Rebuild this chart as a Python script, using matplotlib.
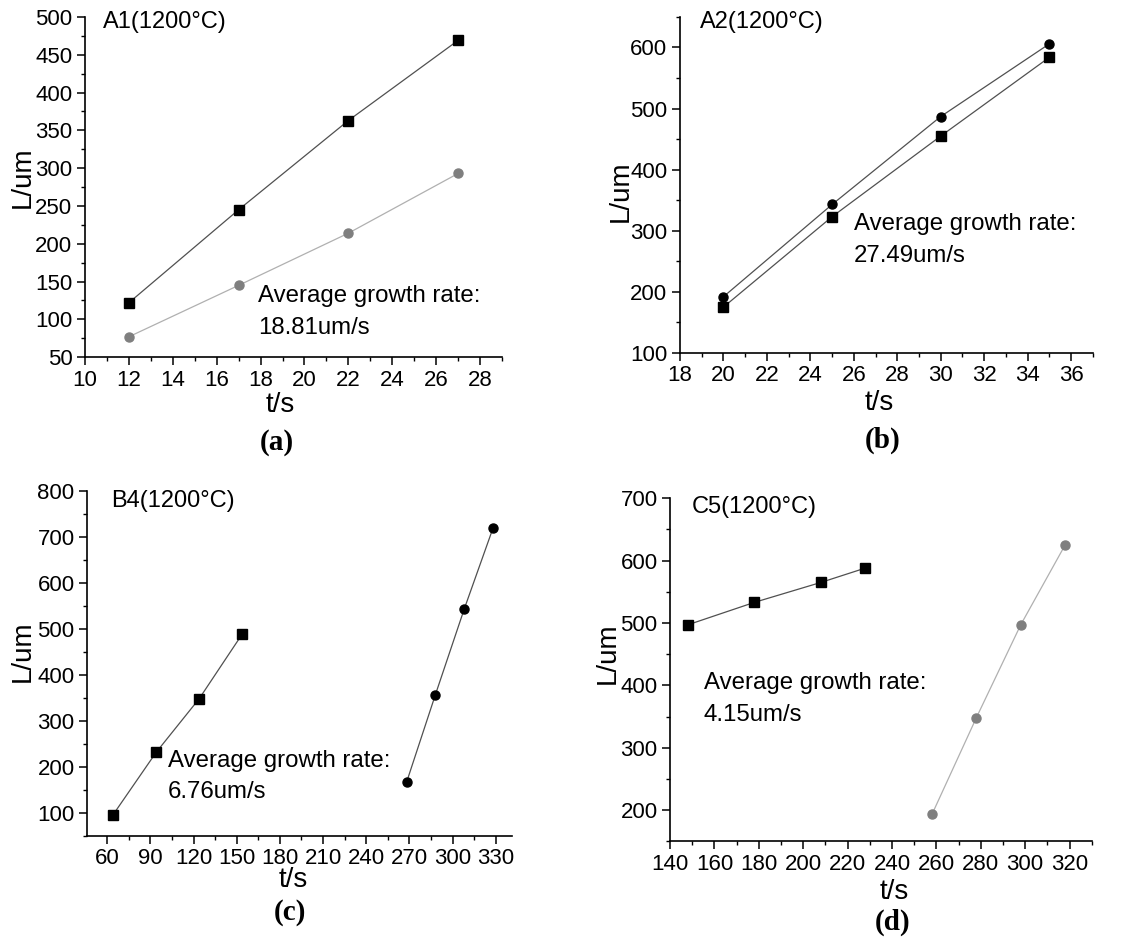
import numpy as np
import matplotlib
matplotlib.use('Agg')
import matplotlib.pyplot as plt
from matplotlib.ticker import MultipleLocator

plt.rcParams['font.family'] = ['Liberation Sans', 'DejaVu Sans']

# (a) A1
a_t = [12, 17, 22, 27]
a_sq = [122, 245, 363, 469]
a_ci = [77, 145, 214, 293]
# (b) A2
b_t = [20, 25, 30, 35]
b_ci = [192, 343, 487, 606]
b_sq = [175, 323, 455, 584]
# (c) B4
c_t_sq = [64, 94, 124, 154]
c_sq = [95, 231, 348, 489]
c_t_ci = [268, 288, 308, 328]
c_ci = [166, 356, 542, 718]
# (d) C5
d_t_sq = [148, 178, 208, 228]
d_sq = [497, 533, 565, 588]
d_t_ci = [258, 278, 298, 318]
d_ci = [193, 348, 497, 625]

titles = ['A1(1200\u00b0C)', 'A2(1200\u00b0C)', 'B4(1200\u00b0C)', 'C5(1200\u00b0C)']
rates = ['18.81um/s', '27.49um/s', '6.76um/s', '4.15um/s']
panel = ['(a)', '(b)', '(c)', '(d)']

fig = plt.figure(figsize=(11.42, 9.40), dpi=100)

# axes rectangles [left, bottom, width, height] in figure fraction
rects = [[0.0744, 0.620, 0.3652, 0.362],
         [0.5954, 0.6245, 0.3616, 0.3575],
         [0.0762, 0.111, 0.3718, 0.367],
         [0.5867, 0.105, 0.3693, 0.365]]
axs = [fig.add_axes(r) for r in rects]

# label positions (axes fraction) for x and y labels
xlab_pos = [(0.468, -0.141), (0.482, -0.149), (0.485, -0.128), (0.531, -0.149)]
ylab_pos = [(-0.15, 0.53), (-0.143, 0.48), (-0.152, 0.535), (-0.147, 0.548)]

blk = dict(color='#505050', lw=0.9, marker='s', ms=6.5, mfc='black', mec='black')
blkc = dict(color='#505050', lw=0.9, marker='o', ms=6.5, mfc='black', mec='black')
gry = dict(color='#b0b0b0', lw=0.9, marker='o', ms=6.5, mfc='#7f7f7f', mec='#7f7f7f')

ttl_fs = 17
ann_fs = 17.3
ls = 1.55

ax = axs[0]
ax.plot(a_t, a_sq, **blk)
ax.plot(a_t, a_ci, **gry)
ax.set_xlim(10, 29); ax.set_ylim(50, 500)
ax.xaxis.set_major_locator(MultipleLocator(2)); ax.xaxis.set_minor_locator(MultipleLocator(1))
ax.yaxis.set_major_locator(MultipleLocator(50)); ax.yaxis.set_minor_locator(MultipleLocator(25))
ax.text(10.8, 493, titles[0], fontsize=ttl_fs, va='center')
ax.text(17.9, 110, 'Average growth rate:\n' + rates[0], fontsize=ann_fs, va='center', linespacing=ls)

ax = axs[1]
ax.plot(b_t, b_ci, **blkc)
ax.plot(b_t, b_sq, **blk)
ax.set_xlim(18, 37); ax.set_ylim(100, 650)
ax.xaxis.set_major_locator(MultipleLocator(2)); ax.xaxis.set_minor_locator(MultipleLocator(1))
ax.yaxis.set_major_locator(MultipleLocator(100)); ax.yaxis.set_minor_locator(MultipleLocator(50))
ax.text(18.9, 642, titles[1], fontsize=ttl_fs, va='center')
ax.text(26.0, 285, 'Average growth rate:\n' + rates[1], fontsize=ann_fs, va='center', linespacing=ls)

ax = axs[2]
ax.plot(c_t_sq, c_sq, **blk)
ax.plot(c_t_ci, c_ci, **blkc)
ax.set_xlim(46, 341); ax.set_ylim(50, 800)
ax.set_xticks(np.arange(60, 331, 30))
ax.xaxis.set_minor_locator(MultipleLocator(15))
ax.set_yticks(np.arange(100, 801, 100))
ax.yaxis.set_minor_locator(MultipleLocator(50))
ax.text(62.8, 778, titles[2], fontsize=ttl_fs, va='center')
ax.text(102, 178, 'Average growth rate:\n' + rates[2], fontsize=ann_fs, va='center', linespacing=ls)

ax = axs[3]
ax.plot(d_t_sq, d_sq, **blk)
ax.plot(d_t_ci, d_ci, **gry)
ax.set_xlim(140, 330); ax.set_ylim(150, 700)
ax.set_xticks(np.arange(140, 321, 20))
ax.xaxis.set_minor_locator(MultipleLocator(10))
ax.set_yticks(np.arange(200, 701, 100))
ax.yaxis.set_minor_locator(MultipleLocator(50))
ax.text(150, 686, titles[3], fontsize=ttl_fs, va='center')
ax.text(155.3, 378, 'Average growth rate:\n' + rates[3], fontsize=ann_fs, va='center', linespacing=ls)

for i, ax in enumerate(axs):
    for s in ['top', 'right']:
        ax.spines[s].set_visible(False)
    for s in ['left', 'bottom']:
        ax.spines[s].set_linewidth(1.2)
    ax.tick_params(which='major', direction='out', length=6, width=1.1, labelsize=16, pad=3)
    ax.tick_params(which='minor', direction='out', length=3, width=1.0)
    ax.set_xlabel('t/s', fontsize=20)
    ax.set_ylabel('L/um', fontsize=20)
    ax.xaxis.set_label_coords(*xlab_pos[i])
    ax.yaxis.set_label_coords(*ylab_pos[i])
    ax.xaxis.label.set_va('center')
    ax.yaxis.label.set_va('center')

# panel letters
letter_pos = [(277, 442), (883, 440), (290, 913), (893, 922)]
for k in range(4):
    fig.text(letter_pos[k][0] / 1142, 1 - letter_pos[k][1] / 940, panel[k], fontsize=21,
             fontweight='bold', family='Liberation Serif', ha='center', va='center')

fig.savefig('out.png', dpi=100)
